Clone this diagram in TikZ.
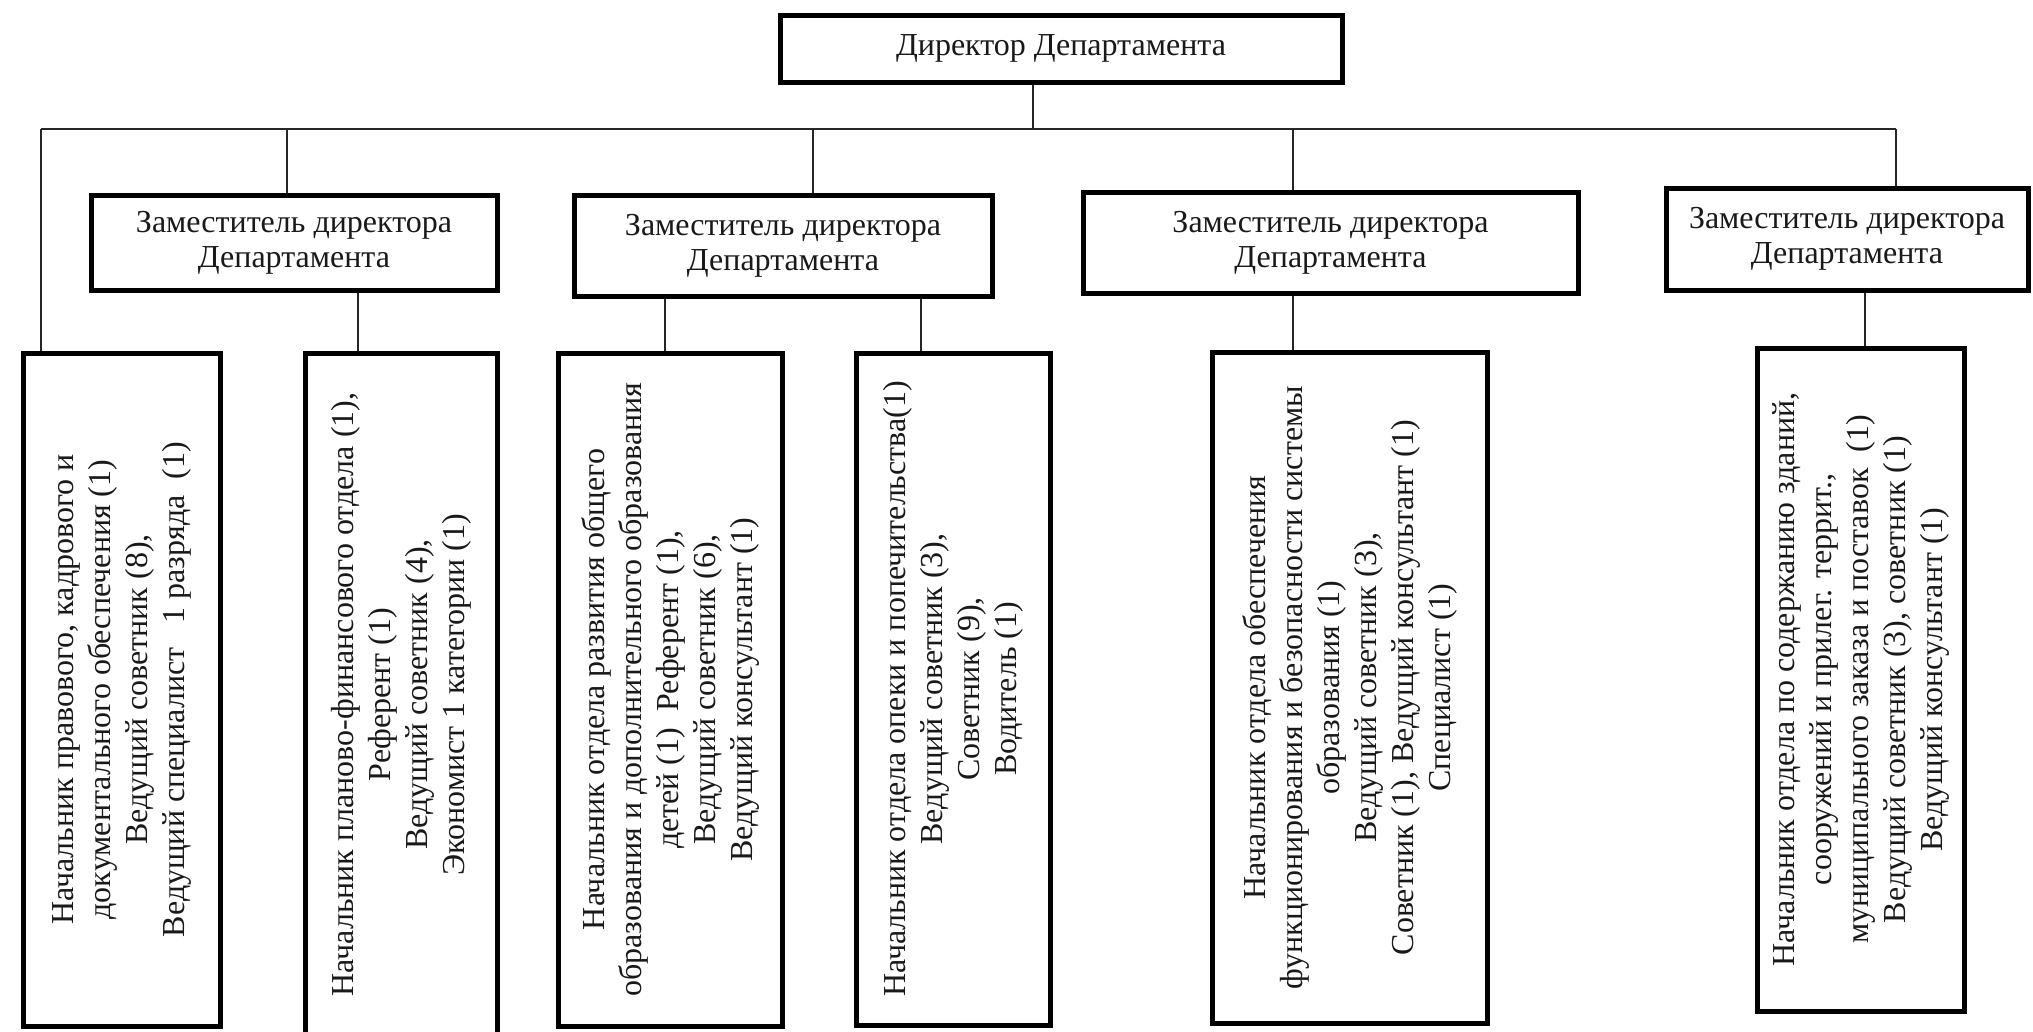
\documentclass[tikz,border=0pt]{standalone}
\usepackage{fontspec}
\setmainfont{Liberation Serif}
\begin{document}
\begin{tikzpicture}[x=1pt,y=-1pt,
  box/.style={draw=black, line width=5pt, rectangle, inner sep=0pt, align=center,
              font=\fontsize{32}{35}\selectfont, text=black!90},
  vbox/.style={box, rotate=90, font=\fontsize{32}{37}\selectfont},
  conn/.style={draw=black!85, line width=2pt}]
\useasboundingbox (0,0) rectangle (2033,1031);
\fill[white] (0,0) rectangle (2033,1031);
\clip (0,0) rectangle (2033,1031);

% top
\node[box, minimum width=562pt, minimum height=67pt] (dir) at (1061,48.5) {Директор Департамента};

% deputies
\node[box, minimum width=406pt, minimum height=95pt]  (d1) at (294,242.5)  {Заместитель директора\\Департамента};
\node[box, minimum width=418pt, minimum height=101pt] (d2) at (783,245.5)  {Заместитель директора\\Департамента};
\node[box, minimum width=495pt, minimum height=101pt] (d3) at (1330.5,242.5) {Заместитель директора\\Департамента};
\node[box, minimum width=362pt, minimum height=102pt] (d4) at (1847,239)   {Заместитель директора\\Департамента};

% departments (rotated)
\node[vbox, minimum width=673pt, minimum height=197pt] (b1) at (121.5,689.5)
  {Начальник правового, кадрового и\\документального обеспечения (1)\\Ведущий советник (8),\\Ведущий специалист\ \ \ 1 разряда\ \ (1)};
\node[vbox, minimum width=683pt, minimum height=192pt] (b2) at (401,694.5)
  {Начальник планово-финансового отдела (1),\\Референт (1)\\Ведущий советник (4),\\Экономист 1 категории (1)};
\node[vbox, minimum width=673pt, minimum height=224pt] (b3) at (670,689.5)
  {Начальник отдела развития общего\\образования и дополнительного образования\\детей (1)\ \ Референт (1),\\Ведущий советник (6),\\Ведущий консультант (1)};
\node[vbox, minimum width=672pt, minimum height=194pt] (b4) at (953,689)
  {Начальник отдела опеки и попечительства(1)\\Ведущий советник (3),\\Советник (9),\\Водитель (1)};
\node[vbox, minimum width=671pt, minimum height=275pt] (b5) at (1349.5,687.5)
  {Начальник отдела обеспечения\\функционирования и безопасности системы\\образования (1)\\Ведущий советник (3),\\Советник (1), Ведущий консультант (1)\\Специалист (1)};
\node[vbox, minimum width=663pt, minimum height=207pt] (b6) at (1860.5,679.5)
  {Начальник отдела по содержанию зданий,\\сооружений и прилег. террит.,\\муниципального заказа и поставок\ \ (1)\\Ведущий советник (3), советник (1)\\Ведущий консультант (1)};

% connectors
\coordinate (hl) at (41,129);
\coordinate (hr) at (1896,129);
\coordinate (xa) at (1033,129);
\coordinate (x1) at (287,129);
\coordinate (x2) at (813,129);
\coordinate (x3) at (1293,129);
\draw[conn] (xa |- dir.south) -- (xa);
\draw[conn] (hl) -- (hr);
\draw[conn] (hl) -- (hl |- b1.east);
\draw[conn] (x1) -- (x1 |- d1.north);
\draw[conn] (x2) -- (x2 |- d2.north);
\draw[conn] (x3) -- (x3 |- d3.north);
\draw[conn] (hr) -- (hr |- d4.north);

\coordinate (y2) at (358,0);
\coordinate (y3) at (665,0);
\coordinate (y4) at (921,0);
\coordinate (y5) at (1293,0);
\coordinate (y6) at (1865,0);
\draw[conn] (y2 |- d1.south) -- (y2 |- b2.east);
\draw[conn] (y3 |- d2.south) -- (y3 |- b3.east);
\draw[conn] (y4 |- d2.south) -- (y4 |- b4.east);
\draw[conn] (y5 |- d3.south) -- (y5 |- b5.east);
\draw[conn] (y6 |- d4.south) -- (y6 |- b6.east);
\end{tikzpicture}
\end{document}
